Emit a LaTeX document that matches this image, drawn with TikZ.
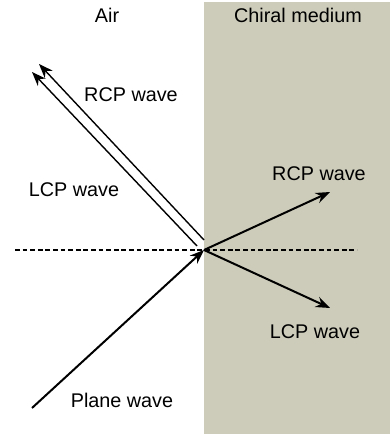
\documentclass[tikz,border=0pt]{standalone}
\usepackage{fontspec}
\setmainfont{Liberation Sans}
\usepackage{xcolor}
\usetikzlibrary{arrows.meta,positioning}
\definecolor{chiralbg}{HTML}{CDCCBB}

\begin{document}
\begin{tikzpicture}[x=0.5pt,y=-0.5pt, >={Stealth[length=2.5mm,width=1.9mm]},
  lbl/.style={font=\fontsize{9.9}{11}\selectfont,inner sep=0pt},
  wave/.style={->,line width=1pt},
  refl/.style={->,line width=0.7pt}]
  \useasboundingbox (0,0) rectangle (390,437);
  % medium
  \fill[chiralbg] (204,2) rectangle (390,434);
  % points
  \coordinate (O) at (204,250);
  \coordinate (src) at (32,408);
  \coordinate (nl) at (15,250); \coordinate (nr) at (357,250);
  \coordinate (lcpA) at (197,246); \coordinate (lcpB) at (32,72);
  \coordinate (rcpA) at (204,240); \coordinate (rcpB) at (39,64);
  \coordinate (tR) at (330,192); \coordinate (tL) at (330,308);
  % normal
  \draw[line width=1pt,dash pattern=on 2.4pt off 1.4pt] (nl) -- (nr);
  % incident and reflected
  \draw[wave] (src) -- (O);
  \draw[refl] (lcpA) -- (lcpB);
  \draw[refl] (rcpA) -- (rcpB);
  % transmitted
  \draw[wave] (O) -- (tR);
  \draw[wave] (O) -- (tL);
  % labels
  \node[lbl] (air) at (107,15) {Air};
  \node[lbl] (chi) at (298,15) {Chiral medium};
  \node[lbl] (rR) at (131,95) {RCP wave};
  \node[lbl] (rL) at (74,190) {LCP wave};
  \node[lbl] (tRl) at (319,174) {RCP wave};
  \node[lbl] (tLl) at (315,332) {LCP wave};
  \node[lbl] (pw) at (122,400) {Plane wave};
\end{tikzpicture}
\end{document}
